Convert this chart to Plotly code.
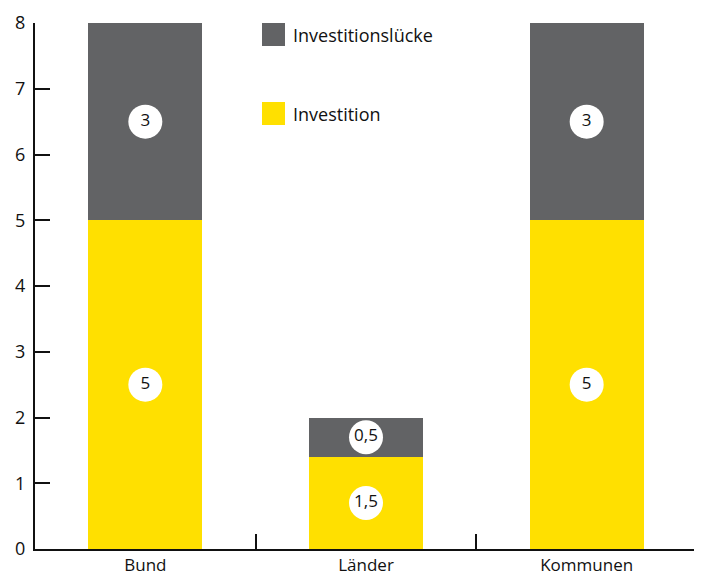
import plotly.graph_objects as go
import numpy as np

categories = ["Bund", "Länder", "Kommunen"]
investition = [5, 1.4, 5]
luecke = [3, 0.6, 3]
investition_labels = ["5", "1,5", "5"]
luecke_labels = ["3", "0,5", "3"]
y_ticks = [0, 1, 2, 3, 4, 5, 6, 7, 8]

YELLOW = "#FFE000"
GRAY = "#626365"
FONT = "Open Sans, Noto Sans, sans-serif"

fig = go.Figure()
fig.add_trace(go.Bar(x=categories, y=investition, marker=dict(color=YELLOW, line=dict(width=0)),
                     name="Investition", showlegend=False))
fig.add_trace(go.Bar(x=categories, y=luecke, marker=dict(color=GRAY, line=dict(width=0)),
                     name="Investitionslücke", showlegend=False))

inv = np.array(investition, dtype=float)
lu = np.array(luecke, dtype=float)
fig.add_trace(go.Scatter(x=categories, y=inv / 2, mode="markers+text",
                         text=investition_labels, textposition="middle center",
                         marker=dict(size=34, color="white", line=dict(width=0)),
                         textfont=dict(size=17, color="#111111", family=FONT),
                         showlegend=False, hoverinfo="skip"))
fig.add_trace(go.Scatter(x=categories, y=inv + lu / 2, mode="markers+text",
                         text=luecke_labels, textposition="middle center",
                         marker=dict(size=34, color="white", line=dict(width=0)),
                         textfont=dict(size=17, color="#111111", family=FONT),
                         showlegend=False, hoverinfo="skip"))

# page body adds an 8px offset; positions below are in window pixels
OFF = 8
L, R, T, B = 35, 697, 23, 549
W, H = R - L, B - T
def px(x):
    return (x - L) / W
def py(y):
    return (B - y) / H

legend_items = [("Investitionslücke", GRAY, 23), ("Investition", YELLOW, 102)]
for label, col, top in legend_items:
    fig.add_shape(type="rect", xref="paper", yref="paper",
                  x0=px(262), x1=px(285), y0=py(top + 23), y1=py(top),
                  fillcolor=col, line=dict(width=0))
    fig.add_annotation(xref="paper", yref="paper", x=px(291), y=py(top + 11.5),
                       text=label, showarrow=False, xanchor="left", yanchor="middle",
                       font=dict(size=18, color="#111111", family=FONT))

fig.update_layout(
    width=702, height=576,
    margin=dict(l=L - OFF, r=702 - (R - OFF), t=T - OFF, b=576 - (B - OFF)),
    barmode="stack",
    bargap=0.483,
    plot_bgcolor="white", paper_bgcolor="white",
    font=dict(family=FONT, size=17, color="#111111"),
    showlegend=False,
)
fig.update_xaxes(
    showline=True, linecolor="#111111", linewidth=2,
    ticks="inside", tickson="boundaries", ticklen=15, tickwidth=2, tickcolor="#111111",
    showgrid=False, zeroline=False, ticklabelstandoff=0, automargin=False,
    tickfont=dict(size=17, color="#111111", family=FONT),
)
fig.update_yaxes(
    range=[0, 8], tickvals=y_ticks, showline=True, linecolor="#111111", linewidth=2,
    ticks="inside", ticklen=15, tickwidth=2, tickcolor="#111111",
    showgrid=False, zeroline=False, automargin=False, ticklabelstandoff=4,
    tickfont=dict(size=18, color="#111111", family=FONT),
)

fig.write_html("out.html")
